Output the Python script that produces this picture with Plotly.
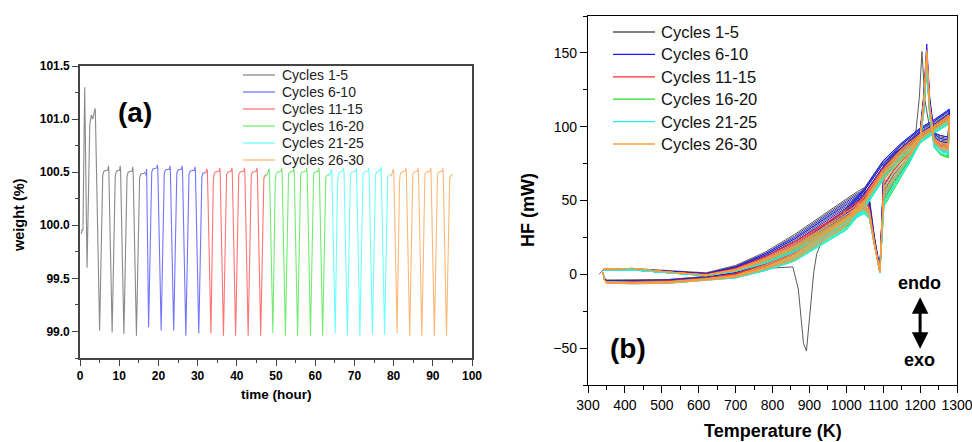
import plotly.graph_objects as go

# ---------------- Panel (a): TGA weight vs time ----------------
LEFT_NAMES = ["Cycles 1-5", "Cycles 6-10", "Cycles 11-15", "Cycles 16-20", "Cycles 21-25", "Cycles 26-30"]

GREY_T = [0.30, 0.55, 0.75, 1.20, 1.80, 2.50, 2.90, 3.25, 3.60, 3.90, 5.00, 5.60, 5.80, 6.10, 7.10, 7.25, 7.35,
          8.20, 8.80, 9.00, 9.30, 10.10, 10.25, 10.35, 11.20, 11.80, 12.00, 12.30, 13.30, 13.45, 13.55,
          14.40, 15.00, 15.20, 15.50, 16.40, 16.60]
GREY_W = [99.92, 99.96, 99.95, 101.30, 99.60, 100.95, 101.04, 101.00, 101.06, 101.10, 99.01, 100.40, 100.47, 100.51,
          100.52, 100.56, 100.52, 98.99, 100.40, 100.47, 100.51, 100.52, 100.56, 100.52, 98.975, 100.38, 100.46,
          100.50, 100.51, 100.55, 100.51, 98.96, 100.36, 100.45, 100.48, 100.49, 100.50]

BLUE_T = [16.75, 16.90, 17.00, 17.50, 18.10, 18.30, 18.60, 19.60, 19.75, 19.85, 20.70, 21.30, 21.50, 21.80, 22.80,
          22.95, 23.05, 23.90, 24.50, 24.70, 25.00, 25.90, 26.05, 26.15, 27.00, 27.60, 27.80, 28.10, 29.20, 29.35,
          29.45, 30.30, 30.90, 31.10, 31.40, 32.10]
BLUE_W = [100.47, 100.52, 100.53, 99.04, 100.42, 100.50, 100.53, 100.54, 100.57, 100.53, 99.01, 100.41, 100.49,
          100.52, 100.53, 100.56, 100.52, 99.01, 100.41, 100.49, 100.52, 100.53, 100.56, 100.52, 98.96, 100.40,
          100.48, 100.51, 100.52, 100.55, 100.51, 98.98, 100.38, 100.46, 100.49, 100.50]

RED_T = [32.10, 32.35, 32.50, 33.40, 34.00, 34.20, 34.50, 35.50, 35.65, 35.75, 36.60, 37.20, 37.40, 37.70, 38.60,
         38.75, 38.85, 39.70, 40.30, 40.50, 40.80, 41.80, 41.95, 42.05, 42.90, 43.50, 43.70, 44.00, 45.00, 45.15,
         45.25, 46.10, 46.70, 46.90, 47.20, 47.60]
RED_W = [100.49, 100.53, 100.51, 98.98, 100.40, 100.48, 100.50, 100.51, 100.54, 100.50, 98.96, 100.40, 100.48,
         100.50, 100.51, 100.54, 100.50, 98.96, 100.40, 100.48, 100.50, 100.51, 100.54, 100.50, 98.96, 100.40,
         100.48, 100.50, 100.51, 100.54, 100.50, 98.96, 100.36, 100.44, 100.47, 100.48]

GREEN_T = [47.60, 48.05, 48.20, 48.35, 49.20, 49.80, 50.00, 50.30, 51.30, 51.45, 51.55, 52.40, 53.00, 53.20, 53.50,
           54.40, 54.55, 54.65, 55.50, 56.10, 56.30, 56.60, 57.70, 57.85, 57.95, 58.80, 59.40, 59.60, 59.90, 60.80,
           60.95, 61.05, 61.90, 62.50, 62.70, 63.00, 63.60]
GREEN_W = [100.46, 100.50, 100.53, 100.50, 98.985, 100.40, 100.48, 100.50, 100.51, 100.54, 100.50, 98.96, 100.40,
           100.48, 100.50, 100.51, 100.54, 100.50, 98.96, 100.40, 100.48, 100.50, 100.51, 100.54, 100.50, 98.96,
           100.40, 100.48, 100.50, 100.51, 100.54, 100.50, 98.96, 100.36, 100.45, 100.47, 100.48]

CYAN_T = [63.60, 64.00, 64.15, 64.25, 65.10, 65.70, 65.90, 66.20, 67.10, 67.25, 67.35, 68.20, 68.80, 69.00, 69.30,
          70.30, 70.45, 70.55, 71.40, 72.00, 72.20, 72.50, 73.50, 73.65, 73.75, 74.60, 75.20, 75.40, 75.70, 76.60,
          76.75, 76.85, 77.70, 78.30, 78.50, 78.80, 79.40]
CYAN_W = [100.46, 100.50, 100.53, 100.50, 98.985, 100.40, 100.48, 100.50, 100.51, 100.54, 100.50, 98.96, 100.40,
          100.48, 100.50, 100.51, 100.54, 100.50, 98.96, 100.40, 100.48, 100.50, 100.51, 100.54, 100.50, 98.97,
          100.40, 100.48, 100.50, 100.52, 100.55, 100.51, 98.97, 100.36, 100.45, 100.47, 100.48]

ORANGE_T = [79.40, 79.80, 79.95, 80.05, 80.90, 81.50, 81.70, 82.00, 83.00, 83.15, 83.25, 84.10, 84.70, 84.90, 85.20,
            86.10, 86.25, 86.35, 87.20, 87.80, 88.00, 88.30, 89.30, 89.45, 89.55, 90.40, 91.00, 91.20, 91.50, 92.40,
            92.55, 92.65, 93.50, 94.10, 94.30, 94.60, 95.10]
ORANGE_W = [100.46, 100.50, 100.53, 100.50, 98.985, 100.40, 100.48, 100.50, 100.51, 100.54, 100.50, 98.96, 100.40,
            100.48, 100.50, 100.51, 100.54, 100.50, 98.96, 100.40, 100.48, 100.50, 100.51, 100.54, 100.50, 98.96,
            100.40, 100.48, 100.50, 100.51, 100.54, 100.50, 98.96, 100.36, 100.44, 100.47, 100.48]

X_TICKS_A = [0, 10, 20, 30, 40, 50, 60, 70, 80, 90, 100]
Y_TICKS_A = [99.0, 99.5, 100.0, 100.5, 101.0, 101.5]

# ---------------- Panel (b): DSC heat flow vs temperature ----------------
# Temperature grids of the two branches of each loop
S_T = [343, 420, 520, 620, 700, 780, 860, 940, 1000, 1030, 1048, 1062, 1076, 1091, 1102, 1130, 1170, 1200,
       1210, 1218, 1226, 1238, 1255, 1276]
GS_T = [330, 336, 343, 420, 520, 620, 700, 780, 860, 940, 1000, 1030, 1048, 1062, 1076, 1091, 1102, 1130, 1170,
        1188, 1198, 1205, 1213, 1228, 1255, 1276]
L_T = [1279, 1240, 1200, 1150, 1100, 1050, 1000, 940, 860, 780, 700, 620, 520, 420, 350, 343, 341]
L1_T = [1279, 1240, 1200, 1150, 1100, 1050, 1000, 940, 920, 912, 900, 892, 884, 870, 855, 780, 700, 620, 520, 420,
        350, 343, 341]

# Cycles 1-5 (first cycle has the exothermic dip near 890 K)
HF_GREY_S = [[0, 1.5, 3.5, 4, 2.5, 1, 6, 15, 27, 41, 51, 56, 58.5, 53, 26, 4, 74, 82, 90, 95, 120, 151, 118, 96, 94, 93],
             [3.5, 3.5, 2, 0.5, 5.5, 14, 26, 40, 50, 55, 57, 51, 25, 3, 73, 81, 89, 96, 120, 150, 118, 96, 93, 92],
             [3, 3.5, 2, 0, 4.5, 12, 23, 36, 46, 51, 53, 48, 24, 3, 68, 77, 86, 95, 118, 148, 115, 94, 91, 90],
             [3, 3, 2, 0.5, 5, 13, 24, 38, 48, 53, 55, 50, 25, 3, 70, 79, 88, 95, 119, 149, 116, 95, 92, 91],
             [3, 3, 1.5, 0, 4, 12, 22, 34, 44, 49, 51, 46, 23, 2.5, 66, 75, 85, 94, 117, 147, 114, 93, 90, 89]]
HF_GREY_L = [[111, 105, 99, 89, 77, 59, 45, 26, 14, 2, -32, -52, -47, -10, 5, 4, -1, -1.5, -3.5, -4, -4, -2, 1.5],
             [110, 104, 98, 88, 76, 58, 44, 33, 20, 10, 2, -1.5, -3.5, -4, -4, -2, 1.5],
             [108, 102, 96, 86, 73, 55, 41, 31, 18, 8, 1, -2, -4, -4.5, -4.5, -2.5, 1.5],
             [109, 103, 97, 87, 75, 57, 43, 32, 19, 9, 1.5, -2, -4, -4.5, -4.5, -2.5, 1.5],
             [107, 101, 95, 85, 72, 54, 40, 30, 17, 8, 1, -2, -4, -5, -5, -3, 1.5]]
HF_BLUE_S = [[3.5, 3.5, 2, 0.5, 5, 14, 25, 39, 49, 54, 56, 50, 25, 3, 75, 82, 89, 97, 122, 156, 120, 96, 94, 93],
             [3, 3, 1.5, 0, 4, 12, 22, 35, 45, 50, 52, 47, 23, 2, 66, 75, 85, 94, 118, 150, 116, 93, 90, 89],
             [3, 3, 1.5, 0, 3.5, 11, 20, 32, 42, 47, 49, 45, 22, 2, 60, 71, 82, 93, 116, 147, 113, 91, 88, 87],
             [3, 3.5, 2, 0.5, 4.5, 13, 24, 37, 47, 52, 54, 49, 24, 2.5, 72, 80, 88, 96, 120, 152, 118, 95, 92, 91],
             [3, 3, 1.5, 0, 3, 10, 19, 30, 40, 45, 47, 43, 21, 2, 56, 68, 80, 92, 115, 146, 112, 90, 87, 86]]
HF_BLUE_L = [[112, 105, 99, 89, 77, 58, 44, 33, 19, 9, 1.5, -2, -4, -4.5, -4.5, -2.5, 1.5],
             [109, 102, 96, 86, 73, 55, 41, 30, 17, 7, 0.5, -2.5, -4.5, -5, -5, -3, 1.5],
             [107, 100, 94, 84, 71, 53, 39, 29, 15, 6, 0, -2.5, -4.5, -5, -5, -3, 1.5],
             [111, 104, 98, 88, 75, 57, 42, 31, 18, 8, 1, -2, -4, -4.5, -4.5, -2.5, 1.5],
             [106, 99, 93, 83, 70, 52, 38, 28, 14, 5.5, -0.5, -3, -5, -5.5, -5, -3, 1.5]]
HF_RED_S = [[3, 3, 1.5, 0, 4, 12, 22, 34, 44, 49, 51, 46, 23, 2, 64, 74, 84, 94, 117, 149, 115, 92, 89, 88],
            [3, 3, 1, -0.5, 3, 10, 19, 31, 40, 45, 47, 43, 21, 2, 57, 68, 80, 92, 114, 145, 112, 90, 87, 86],
            [3, 3, 1, -0.5, 2.5, 9, 18, 29, 38, 43, 45, 41, 20, 1.5, 53, 65, 78, 91, 113, 143, 110, 89, 85, 84],
            [3, 3, 1.5, 0, 3.5, 11, 21, 33, 42, 47, 49, 45, 22, 2, 61, 71, 82, 93, 116, 147, 113, 91, 88, 87],
            [3, 3, 1, -0.5, 2.5, 9, 17, 28, 37, 42, 44, 40, 20, 1.5, 51, 63, 77, 91, 112, 142, 109, 88, 84, 83]]
HF_RED_L = [[108, 101, 95, 85, 72, 54, 40, 30, 16, 7, 0.5, -2.5, -4.5, -5, -5, -3, 1.5],
            [106, 99, 93, 83, 69, 51, 37, 27, 14, 5, -0.5, -3, -5, -5.5, -5, -3, 1.5],
            [105, 98, 92, 82, 68, 49, 35, 25, 12, 4, -1, -3, -5, -5.5, -5, -3, 1.5],
            [107, 100, 94, 84, 71, 52, 38, 28, 15, 6, 0, -2.5, -4.5, -5, -5, -3, 1.5],
            [104, 98, 91, 81, 67, 48, 34, 24, 11, 3.5, -1.5, -3.5, -5.5, -6, -5.5, -3, 1.5]]
HF_GREEN_S = [[3, 3, 1, -0.5, 3, 10, 19, 30, 39, 44, 46, 42, 21, 2, 55, 66, 79, 91, 113, 146, 111, 89, 86, 85],
              [3, 3, 1, -1, 2, 8, 16, 27, 36, 40, 42, 39, 20, 1, 48, 60, 76, 90, 110, 140, 108, 87, 82, 80],
              [3, 3, 1, -1, 2, 8, 17, 28, 37, 41, 43, 40, 20, 1, 50, 62, 77, 90, 111, 142, 109, 87, 81, 79],
              [3, 3, 1, -1, 2, 7.5, 16, 26, 35, 39, 41, 38, 19, 1, 46, 58, 75, 89, 110, 139, 107, 86, 81, 79],
              [3, 3, 1, -0.5, 2.5, 9, 18, 29, 38, 42, 44, 41, 20, 1.5, 52, 64, 78, 90, 112, 143, 110, 88, 84, 82]]
HF_GREEN_L = [[106, 99, 93, 83, 69, 50, 36, 26, 13, 5, -1, -3, -5, -5.5, -5, -3, 1.5],
              [103, 97, 90, 80, 66, 47, 32, 23, 10, 3, -2, -3.5, -5.5, -6, -5.5, -3, 1.5],
              [102, 96, 89, 79, 65, 46, 31, 22, 10, 3, -2, -3.5, -5.5, -6, -5.5, -3, 1.5],
              [102, 96, 89, 78, 64, 45, 30, 21, 9, 2.5, -2.5, -4, -6, -6, -5.5, -3, 1.5],
              [104, 98, 91, 81, 67, 48, 33, 24, 11, 3.5, -1.5, -3.5, -5.5, -6, -5.5, -3, 1.5]]
HF_CYAN_S = [[3, 3, 1, -0.5, 2.5, 9, 18, 29, 38, 42, 44, 41, 20, 1.5, 52, 64, 78, 91, 112, 144, 110, 88, 84, 83],
             [3, 3, 1, -1, 2, 8, 16, 27, 36, 40, 42, 39, 20, 1, 49, 61, 76, 90, 111, 141, 108, 87, 83, 82],
             [3, 3, 1, -0.5, 3, 10, 19, 31, 40, 45, 47, 43, 21, 2, 58, 69, 80, 92, 114, 146, 112, 90, 86, 85],
             [3, 3, 1, -1, 2, 7.5, 15, 26, 35, 39, 41, 38, 19, 1, 47, 59, 75, 89, 110, 140, 107, 86, 82, 81],
             [3, 3, 1, -0.5, 2.5, 9, 17, 28, 37, 41, 43, 40, 20, 1.5, 54, 66, 79, 91, 113, 144, 110, 88, 85, 84]]
HF_CYAN_L = [[104, 98, 91, 81, 67, 48, 33, 24, 11, 3.5, -1.5, -3.5, -5.5, -6, -5.5, -3, 1.5],
             [103, 97, 90, 80, 65, 46, 31, 22, 9, 2.5, -2, -4, -6, -6, -5.5, -3, 1.5],
             [105, 98, 92, 82, 68, 49, 35, 25, 12, 4, -1, -3, -5, -5.5, -5, -3, 1.5],
             [102, 96, 89, 79, 64, 45, 30, 21, 9, 2.5, -2.5, -4, -6, -6.5, -6, -3, 1.5],
             [104, 97, 91, 81, 66, 47, 33, 23, 10, 3, -2, -3.5, -5.5, -6, -5.5, -3, 1.5]]
HF_ORANGE_S = [[3.5, 4, 1.5, -0.5, 3, 10, 19, 31, 40, 45, 47, 43, 21, 2, 62, 72, 82, 93, 117, 152, 114, 91, 88, 87],
               [3.5, 4, 1.5, -0.5, 2.5, 9, 18, 29, 38, 43, 45, 41, 20, 1.5, 56, 67, 80, 92, 115, 149, 112, 90, 86, 85],
               [3.5, 4, 1.5, -0.5, 3.5, 11, 20, 32, 42, 47, 49, 44, 22, 2, 65, 74, 84, 94, 118, 151, 115, 92, 89, 88],
               [3.5, 4, 1.5, -0.5, 3, 10, 19, 30, 39, 44, 46, 42, 21, 2, 59, 70, 81, 92, 116, 150, 113, 90, 87, 86],
               [3.5, 4, 1.5, -0.5, 2.5, 9, 17, 28, 37, 42, 44, 40, 20, 1.5, 54, 65, 79, 91, 114, 148, 111, 89, 85, 84]]
HF_ORANGE_L = [[107, 100, 94, 84, 70, 51, 37, 27, 13, 5, -1, -3.5, -5.5, -6, -5.5, -3, 1.5],
               [105, 99, 92, 82, 68, 49, 34, 24, 11, 4, -1.5, -3.5, -5.5, -6, -5.5, -3, 1.5],
               [108, 101, 95, 85, 71, 53, 38, 28, 14, 6, -0.5, -3, -5, -5.5, -5, -3, 1.5],
               [106, 100, 93, 83, 69, 50, 36, 26, 12, 4.5, -1, -3.5, -5.5, -6, -6, -3, 1.5],
               [104, 98, 91, 81, 67, 48, 33, 23, 10, 3.5, -2, -4, -6, -6.5, -6, -3.5, 1.5]]

X_TICKS_B = [300, 400, 500, 600, 700, 800, 900, 1000, 1100, 1200, 1300]
Y_TICKS_B = [-50, 0, 50, 100, 150]

# ---------------- styles ----------------
LEFT_COLORS = ["#8a8a8a", "#7474ff", "#ff7474", "#74ec74", "#70ffff", "#ffb878"]
RIGHT_COLORS = ["#5a5a5a", "#1a1aff", "#ff2a2a", "#22e022", "#22f2f2", "#ff9a3a"]
FONT = '"Liberation Sans", Arial, sans-serif'
W, H = 972, 442


def px(x):
    return x / W


def py(y):
    return 1 - y / H


fig = go.Figure()

left_data = [(GREY_T, GREY_W), (BLUE_T, BLUE_W), (RED_T, RED_W), (GREEN_T, GREEN_W), (CYAN_T, CYAN_W),
             (ORANGE_T, ORANGE_W)]
for name, (t, w), c in zip(LEFT_NAMES, left_data, LEFT_COLORS):
    fig.add_trace(go.Scatter(x=t, y=w, mode="lines", name=name, line=dict(color=c, width=1.1),
                             xaxis="x", yaxis="y", showlegend=False))

right_data = [(HF_GREY_S, HF_GREY_L), (HF_BLUE_S, HF_BLUE_L), (HF_RED_S, HF_RED_L), (HF_GREEN_S, HF_GREEN_L),
              (HF_CYAN_S, HF_CYAN_L), (HF_ORANGE_S, HF_ORANGE_L)]
for gi, (name, (s_list, l_list), c) in enumerate(zip(LEFT_NAMES, right_data, RIGHT_COLORS)):
    xs, ys = [], []
    for ci, (s, l) in enumerate(zip(s_list, l_list)):
        st = GS_T if (gi == 0 and ci == 0) else S_T
        lt = L1_T if (gi == 0 and ci == 0) else L_T
        xs += st + lt + [None]
        ys += s + l + [None]
    fig.add_trace(go.Scatter(x=xs, y=ys, mode="lines", name=name, line=dict(color=c, width=1),
                             xaxis="x2", yaxis="y2", showlegend=False, connectgaps=False))

axis_common = dict(showgrid=False, zeroline=False, showline=True, mirror=True, ticks="outside", automargin=False,
                   ticklabeloverflow="allow")

fig.update_layout(
    width=W, height=H, margin=dict(l=0, r=0, t=0, b=0, autoexpand=False),
    paper_bgcolor="white", plot_bgcolor="white",
    font=dict(family=FONT, color="black"),
    showlegend=False,
    xaxis=dict(domain=[px(80), px(472)], range=[0, 100], tickvals=X_TICKS_A, anchor="y",
               linecolor="#444", linewidth=1.6, tickcolor="#444", ticklen=6, tickwidth=1.4,
               minor=dict(ticks="outside", dtick=5, ticklen=3, tickcolor="#444", tickwidth=1.2),
               tickfont=dict(size=12, weight="bold", family=FONT), **axis_common),
    yaxis=dict(domain=[py(358), py(66)], range=[98.75, 101.5], tickvals=Y_TICKS_A, tickformat=".1f", anchor="x",
               linecolor="#444", linewidth=1.6, tickcolor="#444", ticklen=6, tickwidth=1.4,
               minor=dict(ticks="outside", dtick=0.25, ticklen=3, tickcolor="#444", tickwidth=1.2),
               tickfont=dict(size=12, weight="bold", family=FONT), **axis_common),
    xaxis2=dict(domain=[px(588), px(957)], range=[300, 1300], tickvals=X_TICKS_B, anchor="y2",
                linecolor="black", linewidth=1.2, tickcolor="black", ticklen=7, tickwidth=1.2,
                minor=dict(ticks="outside", dtick=50, ticklen=4, tickcolor="black", tickwidth=1),
                tickfont=dict(size=14, family=FONT), **axis_common),
    yaxis2=dict(domain=[py(385), py(16)], range=[-75, 175], tickvals=Y_TICKS_B, anchor="x2",
                linecolor="black", linewidth=1.2, tickcolor="black", ticklen=7, tickwidth=1.2,
                minor=dict(ticks="outside", dtick=25, ticklen=4, tickcolor="black", tickwidth=1),
                tickfont=dict(size=14, family=FONT), **axis_common),
)

ann = []
shapes = []
# axis titles
ann.append(dict(text="<b>time (hour)</b>", x=px(276), y=py(394), font=dict(size=13.5)))
ann.append(dict(text="<b>weight (%)</b>", x=px(19), y=py(215), textangle=-90, font=dict(size=14.5)))
ann.append(dict(text="<b>Temperature (K)</b>", x=px(773), y=py(431), font=dict(size=18)))
ann.append(dict(text="<b>HF (mW)</b>", x=px(528), y=py(210), textangle=-90, font=dict(size=18)))
# panel labels
ann.append(dict(text="<b>(a)</b>", x=px(135), y=py(112), font=dict(size=28)))
ann.append(dict(text="<b>(b)</b>", x=px(628), y=py(348), font=dict(size=28)))
ann.append(dict(text="<b>endo</b>", x=px(919), y=py(283), font=dict(size=18)))
ann.append(dict(text="<b>exo</b>", x=px(919), y=py(360), font=dict(size=18)))

# legends (a)
for i, (name, c) in enumerate(zip(LEFT_NAMES, LEFT_COLORS)):
    yc = 75 + i * 17
    shapes.append(dict(type="line", xref="paper", yref="paper", x0=px(243), x1=px(275), y0=py(yc), y1=py(yc),
                       line=dict(color=c, width=1.3)))
    ann.append(dict(text=name, x=px(280), y=py(yc), xanchor="left", font=dict(size=14, color="#222")))
# legends (b)
for i, (name, c) in enumerate(zip(LEFT_NAMES, RIGHT_COLORS)):
    yc = 32 + i * 22.4
    shapes.append(dict(type="line", xref="paper", yref="paper", x0=px(613), x1=px(655), y0=py(yc), y1=py(yc),
                       line=dict(color=c, width=1.3)))
    ann.append(dict(text=name, x=px(659), y=py(yc), xanchor="left", font=dict(size=16.5, color="#111")))

for a in ann:
    a.setdefault("xref", "paper")
    a.setdefault("yref", "paper")
    a.setdefault("showarrow", False)
    a.setdefault("xanchor", "center")
    a.setdefault("yanchor", "middle")
    a["font"].setdefault("family", FONT)
    a["font"].setdefault("color", "black")

# double-headed endo/exo arrow
ann.append(dict(text="", xref="x2", yref="y2", axref="x2", ayref="y2", x=1200, y=-15.5, ax=1200, ay=-51.5,
                showarrow=True, arrowside="end+start", arrowhead=2, arrowsize=1.1, arrowwidth=3,
                arrowcolor="black"))

fig.update_layout(annotations=ann, shapes=shapes)
fig.write_html("out.html")
